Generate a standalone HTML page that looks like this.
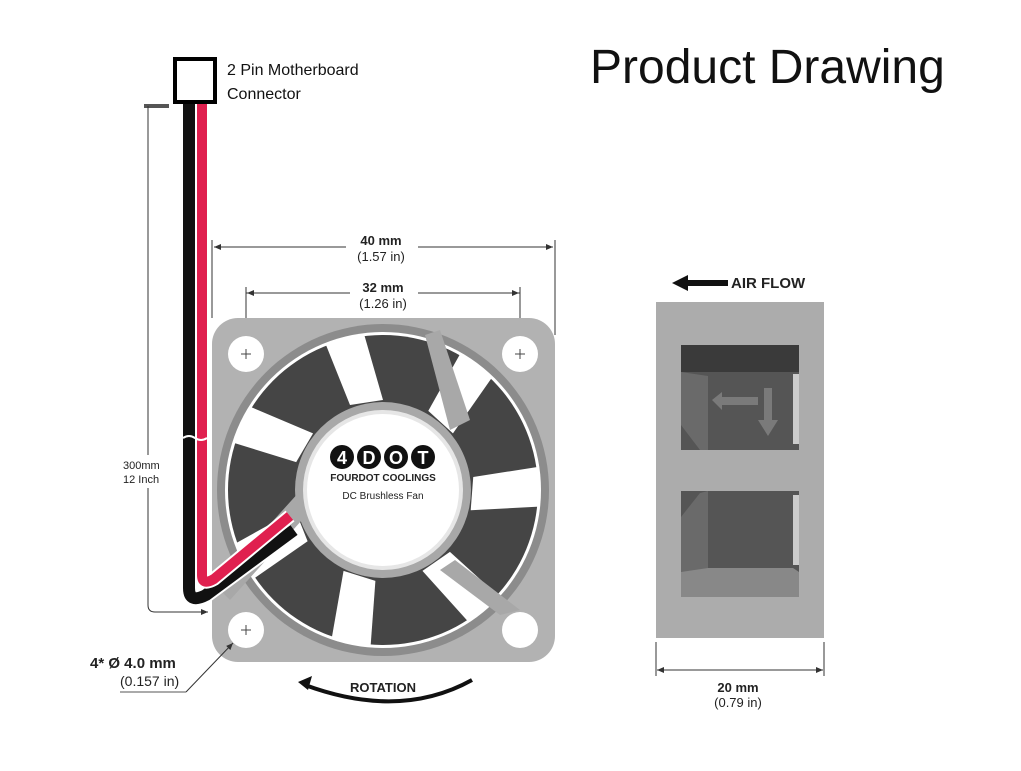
<!DOCTYPE html>
<html><head><style>
html,body{margin:0;padding:0;background:#fff;}
svg{display:block;}
text{font-family:"Liberation Sans",sans-serif;}
</style></head><body>
<svg width="1021" height="771" viewBox="0 0 1021 771" xmlns="http://www.w3.org/2000/svg">
<defs>
<marker id="ar" markerWidth="8" markerHeight="8" refX="7" refY="4" orient="auto"><path d="M0,1 L7,4 L0,7 z" fill="#333"/></marker>
<clipPath id="ann"><circle cx="383" cy="490" r="156"/></clipPath>
</defs>
<rect width="1021" height="771" fill="#fff"/>
<text x="590" y="83" font-size="48" fill="#111">Product Drawing</text>

<!-- connector -->
<rect x="175" y="59" width="40" height="43" fill="#fff" stroke="#000" stroke-width="4"/>
<text x="227" y="75" font-size="16" fill="#111">2 Pin Motherboard</text>
<text x="227" y="99" font-size="16" fill="#111">Connector</text>

<!-- 300mm dim -->
<rect x="144" y="104" width="25" height="4" fill="#555"/>
<line x1="148" y1="106" x2="148" y2="455" stroke="#333" stroke-width="1"/>
<line x1="148" y1="488" x2="148" y2="605" stroke="#333" stroke-width="1"/>
<path d="M148,605 Q148,612 155,612 L208,612" fill="none" stroke="#333" stroke-width="1" marker-end="url(#ar)"/>
<text x="123" y="469" font-size="11" fill="#222">300mm</text>
<text x="123" y="483" font-size="11" fill="#222">12 Inch</text>

<!-- 40mm dim -->
<line x1="212" y1="240" x2="212" y2="318" stroke="#333"/>
<line x1="555" y1="240" x2="555" y2="335" stroke="#333"/>
<line x1="214" y1="247" x2="346" y2="247" stroke="#333"/>
<line x1="418" y1="247" x2="553" y2="247" stroke="#333" marker-end="url(#ar)"/>
<path d="M214,247 l7,-3 v6z" fill="#333"/>
<text x="381" y="245" font-size="13" font-weight="bold" text-anchor="middle" fill="#222">40 mm</text>
<text x="381" y="261" font-size="13" text-anchor="middle" fill="#222">(1.57 in)</text>
<!-- 32mm -->
<line x1="246" y1="287" x2="246" y2="345" stroke="#333"/>
<line x1="520" y1="287" x2="520" y2="345" stroke="#333"/>
<line x1="246" y1="293" x2="350" y2="293" stroke="#333"/>
<line x1="418" y1="293" x2="520" y2="293" stroke="#333"/>
<path d="M247,293 l7,-3 v6z M519,293 l-7,-3 v6z" fill="#333"/>
<text x="383" y="292" font-size="13" font-weight="bold" text-anchor="middle" fill="#222">32 mm</text>
<text x="383" y="308" font-size="13" text-anchor="middle" fill="#222">(1.26 in)</text>

<!-- fan frame -->
<rect x="212" y="318" width="343" height="344" rx="26" fill="#b2b2b2"/>
<circle cx="383" cy="490" r="166" fill="#8c8c8c"/>
<circle cx="383" cy="490" r="158" fill="#fff"/>
<g clip-path="url(#ann)">
<circle cx="383" cy="490" r="155" fill="#454545"/>
<g fill="#fff">
<polygon points="383,400 360,320 320,330 350,405" transform="rotate(0 383 490)"/>
<polygon points="383,400 360,320 320,330 350,405" transform="rotate(51 383 490)"/>
<polygon points="383,400 360,320 320,330 350,405" transform="rotate(103 383 490)"/>
<polygon points="383,400 360,320 320,330 350,405" transform="rotate(154 383 490)"/>
<polygon points="383,400 360,320 320,330 350,405" transform="rotate(206 383 490)"/>
<polygon points="383,400 360,320 320,330 350,405" transform="rotate(257 383 490)"/>
<polygon points="383,400 360,320 320,330 350,405" transform="rotate(309 383 490)"/>
</g>
</g>
<!-- struts -->
<g fill="#a8a8a8">
<polygon points="425,335 440,330 470,420 450,430"/>
<polygon points="230,600 215,585 310,480 320,500"/>
<polygon points="440,570 455,560 520,610 500,615"/>
</g>
<circle cx="383" cy="490" r="88" fill="#a8a8a8"/>
<circle cx="383" cy="490" r="80" fill="#e6e6e6"/>
<circle cx="383" cy="490" r="76" fill="#fff"/>
<!-- holes -->
<g fill="#fff"><circle cx="246" cy="354" r="18"/><circle cx="520" cy="354" r="18"/><circle cx="246" cy="630" r="18"/><circle cx="520" cy="630" r="18"/></g>
<g stroke="#444" stroke-width="1"><path d="M241,354h10M246,349v10M515,354h10M520,349v10M241,630h10M246,625v10"/></g>

<!-- logo -->
<g font-weight="bold" font-size="18" fill="#fff" text-anchor="middle">
<circle cx="342" cy="457" r="12" fill="#111"/><text x="342" y="464">4</text>
<circle cx="369" cy="457" r="12" fill="#111"/><text x="369" y="464">D</text>
<circle cx="396" cy="457" r="12" fill="#111"/><text x="396" y="464">O</text>
<circle cx="423" cy="457" r="12" fill="#111"/><text x="423" y="464">T</text>
</g>
<text x="383" y="481" font-size="10" font-weight="bold" text-anchor="middle" fill="#222">FOURDOT COOLINGS</text>
<text x="383" y="499" font-size="10" text-anchor="middle" fill="#222">DC Brushless Fan</text>

<!-- wires -->
<path d="M189,104 L189,588 Q189,604 206,595 L294,530" fill="none" stroke="#fff" stroke-width="16"/>
<path d="M189,104 L189,588 Q189,604 206,595 L294,530" fill="none" stroke="#111" stroke-width="12"/>
<path d="M202,104 L202,575 Q202,586 214,579 L290,516" fill="none" stroke="#fff" stroke-width="14"/>
<path d="M202,104 L202,575 Q202,586 214,579 L290,516" fill="none" stroke="#e0204f" stroke-width="10"/>
<path d="M183,438 q6,-4 12,0 t12,0" fill="none" stroke="#fff" stroke-width="2"/>

<!-- hole dim -->
<line x1="186" y1="692" x2="120" y2="692" stroke="#555"/>
<line x1="186" y1="692" x2="233" y2="643" stroke="#333" marker-end="url(#ar)"/>
<text x="90" y="668" font-size="15" font-weight="bold" fill="#222">4* Ø 4.0 mm</text>
<text x="120" y="686" font-size="14" fill="#222">(0.157 in)</text>

<!-- rotation -->
<path d="M472,680 Q400,720 305,685" fill="none" stroke="#111" stroke-width="4"/>
<path d="M298,682 l14,-6 l-4,14z" fill="#111"/>
<text x="383" y="692" font-size="13" font-weight="bold" text-anchor="middle" fill="#222">ROTATION</text>

<!-- side view -->
<path d="M672,283 l16,-8 v5 h40 v6 h-40 v5z" fill="#111"/>
<text x="731" y="288" font-size="15" font-weight="bold" fill="#222">AIR FLOW</text>
<rect x="656" y="302" width="168" height="336" fill="#acacac"/>
<rect x="681" y="345" width="118" height="105" fill="#555"/>
<rect x="681" y="345" width="118" height="27" fill="#3a3a3a"/>
<polygon points="681,372 708,376 708,450 700,450 681,425" fill="#6a6a6a"/>
<rect x="793" y="374" width="6" height="70" fill="#ccc"/>
<polygon points="712,400 722,392 722,397 758,397 758,405 722,405 722,410" fill="#7a7a7a"/>
<polygon points="764,388 772,388 772,420 778,420 768,436 758,420 764,420" fill="#7a7a7a"/>
<rect x="681" y="491" width="118" height="106" fill="#555"/>
<polygon points="681,517 700,493 708,491 708,570 681,572" fill="#6a6a6a"/>
<polygon points="681,572 708,568 793,568 799,572 799,597 681,597" fill="#888"/>
<rect x="793" y="495" width="6" height="70" fill="#ccc"/>
<line x1="656" y1="642" x2="656" y2="676" stroke="#333"/>
<line x1="824" y1="642" x2="824" y2="676" stroke="#333"/>
<line x1="657" y1="670" x2="823" y2="670" stroke="#333"/>
<path d="M657,670 l7,-3 v6z M823,670 l-7,-3 v6z" fill="#333"/>
<text x="738" y="692" font-size="13" font-weight="bold" text-anchor="middle" fill="#222">20 mm</text>
<text x="738" y="707" font-size="13" text-anchor="middle" fill="#222">(0.79 in)</text>
</svg>
</body></html>
